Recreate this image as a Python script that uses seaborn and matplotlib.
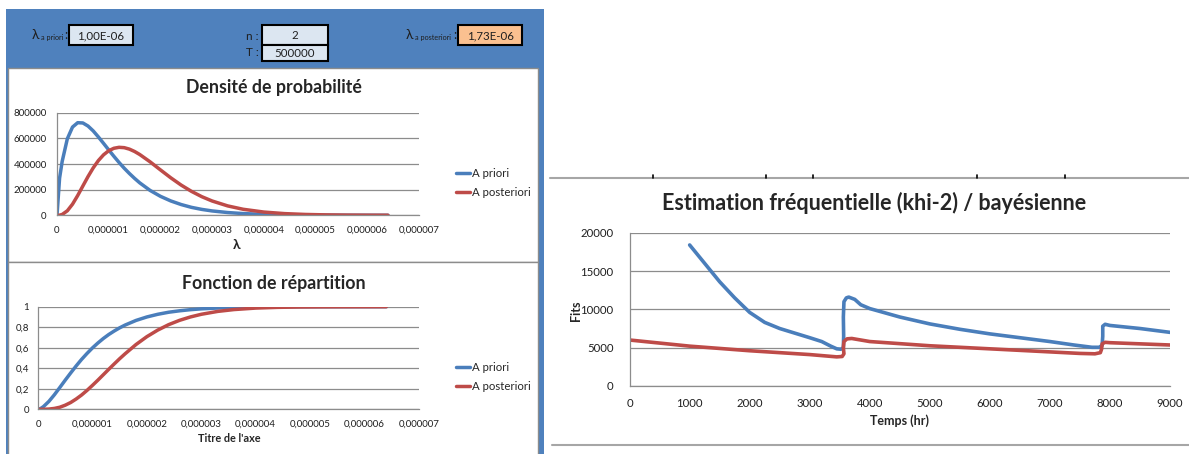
import numpy as np
import pandas as pd
import seaborn as sb
import matplotlib.pyplot as plt
from matplotlib.patches import Rectangle
from matplotlib.lines import Line2D

# --- data ---
# lambda grid (x 1e-6)
lam = [0, 0.05, 0.1, 0.2, 0.3, 0.4, 0.5, 0.6, 0.7, 0.8, 0.9, 1.0, 1.1, 1.2, 1.3, 1.4,
       1.5, 1.6, 1.8, 2.0, 2.2, 2.4, 2.6, 2.8, 3.0, 3.3, 3.6, 4.0, 4.4, 4.8, 5.2, 5.6,
       6.0, 6.4]
dens_priori = [0, 290000, 420000, 597000, 688000, 722000, 720000, 696000, 658000, 611000,
               561000, 510000, 460000, 412000, 367000, 326000, 288000, 253000, 194000,
               148000, 112000, 84000, 62000, 46000, 34000, 21500, 13500, 7200, 3800,
               2000, 1000, 500, 270, 140]
dens_posteriori = [0, 1000, 6400, 35200, 86700, 154000, 228400, 302100, 369500, 426700,
                   471600, 503500, 522600, 530100, 527400, 516000, 497600, 474000, 416900,
                   354100, 292400, 235800, 186700, 145200, 111500, 73300, 47000, 25300,
                   13200, 6700, 3300, 1600, 800, 400]
cdf_priori = [0, 0.008, 0.026, 0.077, 0.141, 0.212, 0.284, 0.354, 0.422, 0.486, 0.544,
              0.598, 0.646, 0.690, 0.729, 0.763, 0.794, 0.821, 0.866, 0.900, 0.926,
              0.946, 0.960, 0.971, 0.979, 0.987, 0.993, 0.997, 0.999, 0.9995, 0.9998,
              0.9999, 1.0, 1.0]
cdf_posteriori = [0, 0.0, 0.0002, 0.0023, 0.0084, 0.020, 0.040, 0.066, 0.100, 0.139,
                  0.184, 0.233, 0.284, 0.337, 0.390, 0.442, 0.493, 0.541, 0.631, 0.708,
                  0.772, 0.825, 0.867, 0.900, 0.926, 0.954, 0.972, 0.9865, 0.9935,
                  0.997, 0.9985, 0.9993, 0.9997, 1.0]

lam_ticks = [0, 1e-6, 2e-6, 3e-6, 4e-6, 5e-6, 6e-6, 7e-6]
lam_ticklabels = ["0", "0,000001", "0,000002", "0,000003", "0,000004", "0,000005",
                  "0,000006", "0,000007"]
dens_ticks = [0, 200000, 400000, 600000, 800000]
cdf_ticks = [0, 0.2, 0.4, 0.6, 0.8, 1]
cdf_ticklabels = ["0", "0,2", "0,4", "0,6", "0,8", "1"]

# frequentist (khi-2) vs bayesian estimate over time
t_freq = [1000, 1250, 1500, 1750, 2000, 2250, 2500, 2750, 3000, 3200, 3350, 3450, 3520,
          3560, 3565, 3560, 3570, 3610, 3650, 3750, 3850, 4000, 4500, 5000, 5500, 6000,
          6500, 7000, 7400, 7700, 7820, 7870, 7880, 7880, 7920, 8000, 8500, 9000]
fits_freq = [18400, 16000, 13600, 11500, 9600, 8300, 7500, 6900, 6300, 5800, 5200, 4850,
             4800, 5000, 6500, 9000, 11000, 11500, 11600, 11300, 10600, 10100, 9000, 8100,
             7400, 6800, 6300, 5800, 5350, 5050, 5050, 5300, 6500, 7800, 8050, 7900, 7500,
             7000]
t_bayes = [0, 500, 1000, 1500, 2000, 2500, 3000, 3300, 3450, 3540, 3570, 3560, 3570, 3620,
           3700, 3850, 4000, 5000, 6000, 7000, 7500, 7750, 7840, 7860, 7870, 7920, 8000,
           9000]
fits_bayes = [6000, 5600, 5200, 4900, 4600, 4350, 4100, 3900, 3800, 3850, 4200, 5000, 5800,
              6150, 6200, 6000, 5800, 5250, 4850, 4450, 4250, 4200, 4350, 4800, 5500, 5700,
              5650, 5350]
t_ticks = [0, 1000, 2000, 3000, 4000, 5000, 6000, 7000, 8000, 9000]
fits_ticks = [0, 5000, 10000, 15000, 20000]

BLUE = "#4A7EBB"
RED = "#BE4B48"
PANEL = "#4F81BD"
GRID = "#8C8C8C"
W, H = 1189, 454

sb.set_style("white")
plt.rcParams["font.family"] = ["Lato", "DejaVu Sans"]


def rect(x0, y0, x1, y1):
    # pixel box -> figure fraction [left, bottom, width, height]
    return [x0 / W, 1 - y1 / H, (x1 - x0) / W, (y1 - y0) / H]


def fx(x):
    return x / W


def fy(y):
    return 1 - y / H


fig = plt.figure(figsize=(W / 100, H / 100), dpi=100)

# left blue panel with two white chart areas
fig.add_artist(Rectangle((fx(6), 0), fx(544) - fx(6), fy(9), transform=fig.transFigure,
                         facecolor=PANEL, edgecolor="none", zorder=0))
for y0, y1 in [(68, 262), (262, 455)]:
    fig.add_artist(Rectangle((fx(8), fy(y1)), fx(538) - fx(8), fy(y0) - fy(y1),
                             transform=fig.transFigure, facecolor="white",
                             edgecolor="#8C8C8C", lw=1, zorder=0))

# input cells in the header
cells = [(69, 25, 133, 45, "#DCE6F1", "1,00E-06"),
         (262, 25, 328, 45, "#DCE6F1", "2"),
         (262, 45, 328, 61, "#DCE6F1", "500000"),
         (458, 25, 522, 45, "#FAC090", "1,73E-06")]
for x0, y0, x1, y1, fc, txt in cells:
    fig.add_artist(Rectangle((fx(x0), fy(y1)), fx(x1) - fx(x0), fy(y0) - fy(y1),
                             transform=fig.transFigure, facecolor=fc,
                             edgecolor="black", lw=1.5, zorder=1))
    fig.text(fx((x0 + x1) / 2), fy((y0 + y1) / 2 + 0.5), txt, ha="center", va="center",
             fontsize=8.3, color="#1F1F1F")

hdr = "#1F1F1F"
fig.text(fx(39), fy(35), "λ", ha="right", va="center", fontsize=10, color=hdr)
fig.text(fx(41), fy(37.5), "a priori", ha="left", va="center", fontsize=5.2, color=hdr)
fig.text(fx(64), fy(35), ":", ha="left", va="center", fontsize=9, color=hdr)
fig.text(fx(259), fy(36), "n :", ha="right", va="center", fontsize=8.5, color=hdr)
fig.text(fx(259), fy(53), "T :", ha="right", va="center", fontsize=8.5, color=hdr)
fig.text(fx(413), fy(35), "λ", ha="right", va="center", fontsize=10, color=hdr)
fig.text(fx(415), fy(37.5), "a posteriori", ha="left", va="center", fontsize=5.2,
         color=hdr)
fig.text(fx(453), fy(35), ":", ha="left", va="center", fontsize=9, color=hdr)


def excel_axes(ax, fs):
    ax.set_facecolor("none")
    for side in ["top", "right"]:
        ax.spines[side].set_visible(False)
    for side in ["left", "bottom"]:
        ax.spines[side].set_color(GRID)
        ax.spines[side].set_linewidth(0.9)
    ax.yaxis.grid(True, color=GRID, lw=0.9)
    ax.set_axisbelow(True)
    ax.tick_params(axis="both", direction="out", length=2.5, width=0.8, color=GRID,
                   labelsize=fs, labelcolor="#1F1F1F", pad=3)


df_lam = pd.DataFrame({
    "lam": np.array(lam) * 1e-6,
    "dens_priori": dens_priori, "dens_post": dens_posteriori,
    "cdf_priori": cdf_priori, "cdf_post": cdf_posteriori,
})

# --- Densité de probabilité ---
ax1 = fig.add_axes(rect(57, 112.7, 419, 215.3))
sb.lineplot(data=df_lam, x="lam", y="dens_priori", ax=ax1, color=BLUE, lw=2.5,
            label="A priori")
sb.lineplot(data=df_lam, x="lam", y="dens_post", ax=ax1, color=RED, lw=2.5,
            label="A posteriori")
excel_axes(ax1, 7.0)
ax1.set_xlim(0, 7e-6)
ax1.set_ylim(0, 800000)
ax1.set_xticks(lam_ticks, lam_ticklabels)
ax1.set_yticks(dens_ticks, [str(v) for v in dens_ticks])
ax1.tick_params(axis="x", pad=5)
ax1.tick_params(axis="y", pad=5)
ax1.set_ylabel("")
ax1.set_xlabel("λ", fontsize=10, fontweight="bold")
ax1.xaxis.set_label_coords((237 - 57) / 362, -(245 - 215.3) / 102.6)
ax1.xaxis.label.set_va("center")
ax1.legend(loc="center left", bbox_to_anchor=(fx(446), fy(183)),
           bbox_transform=fig.transFigure, frameon=False, fontsize=8.2,
           handlelength=1.25, handletextpad=0.1, labelspacing=0.75)
fig.text(fx(274), fy(88), "Densité de probabilité", ha="center", va="center",
         fontsize=12.8, fontweight="bold")

# --- Fonction de répartition ---
ax2 = fig.add_axes(rect(38, 306.7, 419, 409.3))
sb.lineplot(data=df_lam, x="lam", y="cdf_priori", ax=ax2, color=BLUE, lw=2.5,
            label="A priori")
sb.lineplot(data=df_lam, x="lam", y="cdf_post", ax=ax2, color=RED, lw=2.5,
            label="A posteriori")
excel_axes(ax2, 7.0)
ax2.set_xlim(0, 7e-6)
ax2.set_ylim(0, 1)
ax2.set_xticks(lam_ticks, lam_ticklabels)
ax2.set_yticks(cdf_ticks, cdf_ticklabels)
ax2.tick_params(axis="x", pad=5)
ax2.tick_params(axis="y", pad=4)
ax2.set_ylabel("")
ax2.set_xlabel("Titre de l'axe", fontsize=7.8, fontweight="bold")
ax2.xaxis.set_label_coords((229 - 38) / 381, -(439 - 409.3) / 102.6)
ax2.xaxis.label.set_va("center")
ax2.legend(loc="center left", bbox_to_anchor=(fx(446), fy(377)),
           bbox_transform=fig.transFigure, frameon=False, fontsize=8.2,
           handlelength=1.25, handletextpad=0.1, labelspacing=0.75)
fig.text(fx(274), fy(283), "Fonction de répartition", ha="center", va="center",
         fontsize=12.8, fontweight="bold")

# --- Estimation fréquentielle / bayésienne ---
fig.add_artist(Line2D([fx(550), 1], [fy(178), fy(178)], transform=fig.transFigure,
                      color="#A6A6A6", lw=1.5))
for xt in [653, 766, 813, 977, 1065]:
    fig.add_artist(Line2D([fx(xt), fx(xt)], [fy(178), fy(175)], transform=fig.transFigure,
                          color="black", lw=1.2))
fig.add_artist(Line2D([fx(552), 1], [fy(445), fy(445)], transform=fig.transFigure,
                      color="#A6A6A6", lw=1.5))

df_freq = pd.DataFrame({"t": t_freq, "fits": fits_freq})
df_bayes = pd.DataFrame({"t": t_bayes, "fits": fits_bayes})
ax3 = fig.add_axes(rect(629.6, 232.7, 1170, 386))
sb.lineplot(data=df_freq, x="t", y="fits", ax=ax3, color=BLUE, lw=2.6, sort=False,
            estimator=None)
sb.lineplot(data=df_bayes, x="t", y="fits", ax=ax3, color=RED, lw=2.6, sort=False,
            estimator=None)
excel_axes(ax3, 8.2)
ax3.set_xlim(0, 9000)
ax3.set_ylim(0, 20000)
ax3.set_xticks(t_ticks, [str(v) for v in t_ticks])
ax3.set_yticks(fits_ticks, [str(v) for v in fits_ticks])
ax3.tick_params(axis="x", pad=6)
ax3.tick_params(axis="y", pad=9)
ax3.set_xlabel("Temps (hr)", fontsize=9, fontweight="bold")
ax3.xaxis.set_label_coords((900 - 629.6) / 540.4, -(421 - 386) / 153.3)
ax3.xaxis.label.set_va("center")
ax3.set_ylabel("Fits", fontsize=9, fontweight="bold")
ax3.yaxis.set_label_coords(-(629.6 - 576) / 540.4, (386 - 311) / 153.3)
ax3.yaxis.label.set_va("center")
fig.text(fx(874), fy(203), "Estimation fréquentielle (khi-2) / bayésienne", ha="center",
         va="center", fontsize=15.5, fontweight="bold")

fig.savefig("out.png", dpi=100)
